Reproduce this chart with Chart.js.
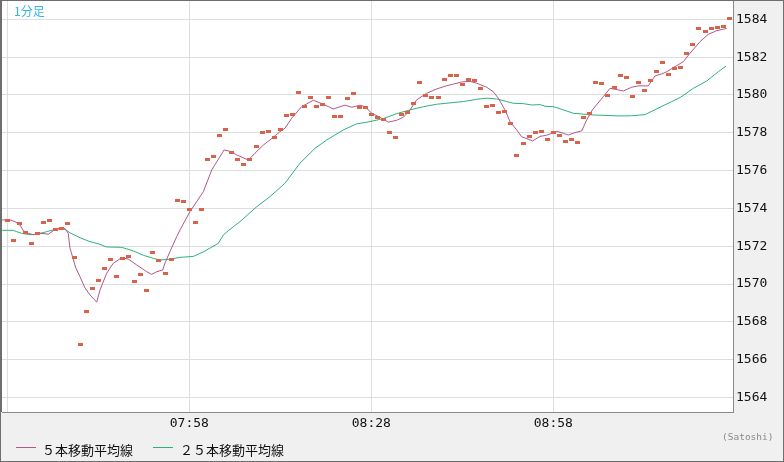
<!DOCTYPE html>
<html lang="ja">
<head>
<meta charset="UTF-8">
<title>1分足</title>
<script src="https://cdn.jsdelivr.net/npm/chart.js"></script>
<style>
  body { margin: 0; background: #fff; }
  #wrap { position: relative; width: 784px; height: 462px; }
  #c { position: absolute; left: 0; top: 0; }
  .txt { position: absolute; white-space: nowrap; }
  #note { left: 14px; top: 2px; font: 12px "Noto Sans CJK JP", sans-serif; color: #35b5e5; }
  #credit { left: 722px; top: 431px; font: 9.5px "DejaVu Sans Mono", monospace; color: #8a8a8a; }
  .leg-line { position: absolute; height: 1px; width: 20px; top: 447px; }
  .leg-txt { top: 440px; font: 13px "Noto Sans CJK JP", sans-serif; color: #111; }
</style>
</head>
<body>
<div id="wrap">
  <canvas id="c" width="784" height="462"></canvas>
  <div id="note" class="txt">1分足</div>
  <div class="leg-line" style="left:16px;background:#b0588a"></div>
  <div class="txt leg-txt" style="left:42px">５本移動平均線</div>
  <div class="leg-line" style="left:153px;background:#2db37a"></div>
  <div class="txt leg-txt" style="left:180px">２５本移動平均線</div>
  <div id="credit" class="txt">(Satoshi)</div>
</div>
<script>
// one dash per minute, starting 07:28 (minute 0)
const closes = [
  1573.37, 1572.31, 1573.21, 1572.74, 1572.15, 1572.68, 1573.26, 1573.37, 1572.89, 1572.95,
  1573.21, 1571.41, 1566.81, 1568.56, 1569.77, 1570.20, 1570.83, 1571.31, 1570.41, 1571.36,
  1571.47, 1570.14, 1570.51, 1569.67, 1571.68, 1571.25, 1570.57, 1571.31, 1574.43, 1574.38,
  1573.95, 1573.26, 1573.95, 1576.60, 1576.76, 1577.87, 1578.19, 1576.97, 1576.60, 1576.33,
  1576.60, 1577.29, 1578.03, 1578.08, 1577.76, 1578.19, 1578.93, 1578.98, 1580.14, 1579.40,
  1579.88, 1579.40, 1579.51, 1579.88, 1578.87, 1578.87, 1579.83, 1580.09, 1579.35, 1579.35,
  1578.98, 1578.82, 1578.71, 1578.03, 1577.76, 1578.98, 1579.08, 1579.56, 1580.67, 1579.98,
  1579.88, 1579.88, 1580.83, 1581.04, 1581.04, 1580.57, 1580.83, 1580.78, 1580.35, 1579.40,
  1579.46, 1579.08, 1579.14, 1578.50, 1576.81, 1577.44, 1577.81, 1578.03, 1578.08, 1577.66,
  1578.03, 1577.87, 1577.55, 1577.66, 1577.50, 1578.82, 1579.03, 1580.67, 1580.62, 1579.98,
  1580.41, 1581.04, 1580.94, 1579.93, 1580.67, 1580.25, 1580.78, 1581.25, 1581.73, 1581.09,
  1581.41, 1581.46, 1582.20, 1582.68, 1583.53, 1583.37, 1583.53, 1583.59, 1583.64, 1584.07
];

// [minute, value]
const ma5 = [
  [-0.9, 1573.39], [0.45, 1573.39], [1.27, 1573.30], [2.09, 1573.12], [2.75, 1572.77],
  [3.46, 1572.68], [4.29, 1572.61], [5.39, 1572.68], [6.21, 1572.66], [6.76, 1572.63],
  [7.58, 1572.82], [8.69, 1572.98], [9.51, 1572.94], [10.05, 1572.68], [10.33, 1571.9],
  [11.3, 1570.85], [11.98, 1570.39], [12.81, 1569.79], [13.63, 1569.42], [14.74, 1569.04],
  [15.28, 1569.68], [16.38, 1570.57], [17.47, 1571.10], [18.86, 1571.39], [19.94, 1571.32],
  [21.33, 1571.01], [22.98, 1570.65], [23.80, 1570.51], [24.63, 1570.65], [25.61, 1570.74],
  [25.99, 1571.10], [26.82, 1571.72], [27.92, 1572.50], [28.47, 1572.86], [30.11, 1573.83],
  [32.31, 1574.88], [33.69, 1576.03], [35.72, 1577.09], [36.71, 1577.02], [37.81, 1576.83],
  [39.72, 1576.56], [40.83, 1576.92], [42.20, 1577.35], [43.30, 1577.62], [44.95, 1578.06],
  [45.77, 1578.24], [46.88, 1578.77], [48.52, 1579.38], [50.44, 1579.72], [52.09, 1579.51],
  [53.73, 1579.26], [55.66, 1579.46], [56.77, 1579.35], [58.14, 1579.46], [58.96, 1579.38],
  [60.07, 1579.03], [61.44, 1578.82], [62.80, 1578.56], [64.18, 1578.66], [65.27, 1578.82],
  [66.38, 1579.21], [67.48, 1579.74], [69.13, 1580.09], [70.78, 1580.32], [72.43, 1580.49],
  [73.51, 1580.57], [74.90, 1580.69], [76.27, 1580.72], [77.37, 1580.62], [79.02, 1580.41],
  [80.10, 1580.17], [80.93, 1579.83], [82.03, 1579.21], [82.86, 1578.59], [83.96, 1578.15],
  [84.79, 1577.79], [86.60, 1577.57], [87.80, 1577.81], [88.91, 1577.87], [89.73, 1577.97],
  [90.56, 1578.08], [91.65, 1577.97], [92.47, 1577.88], [93.58, 1578.01], [94.68, 1578.10],
  [95.50, 1578.68], [96.43, 1579.21], [98.24, 1579.91], [99.34, 1580.35], [100.17, 1580.30],
  [101.53, 1580.21], [102.92, 1580.41], [104.00, 1580.48], [105.65, 1580.48], [106.76, 1581.01],
  [107.86, 1581.11], [108.69, 1581.23], [110.06, 1581.50], [111.42, 1581.76], [112.53, 1582.21],
  [114.18, 1582.82], [115.54, 1583.21], [116.93, 1583.40], [118.58, 1583.52]
];

// [minute, value]
const ma25 = [
  [-0.9, 1572.84], [0.99, 1572.84], [1.55, 1572.77], [2.37, 1572.68], [3.74, 1572.61],
  [4.85, 1572.63], [6.49, 1572.77], [8.14, 1572.91], [9.51, 1572.89], [10.33, 1572.71],
  [11.98, 1572.45], [13.63, 1572.24], [15.28, 1572.10], [16.38, 1571.96], [18.86, 1571.94],
  [20.77, 1571.75], [22.42, 1571.52], [24.06, 1571.36], [25.17, 1571.27], [26.82, 1571.31],
  [28.47, 1571.41], [30.66, 1571.46], [32.31, 1571.70], [34.78, 1572.15], [35.60, 1572.59],
  [36.43, 1572.82], [38.36, 1573.30], [41.11, 1574.09], [43.30, 1574.62], [45.77, 1575.33],
  [48.24, 1576.39], [50.72, 1577.18], [52.65, 1577.62], [55.38, 1578.15], [57.59, 1578.47],
  [59.78, 1578.59], [61.98, 1578.75], [64.18, 1579.01], [66.38, 1579.21], [68.57, 1579.38],
  [70.78, 1579.51], [72.97, 1579.58], [75.16, 1579.65], [77.37, 1579.77], [79.02, 1579.83],
  [80.67, 1579.79], [82.32, 1579.65], [83.41, 1579.56], [85.06, 1579.54], [86.45, 1579.47],
  [87.80, 1579.49], [88.63, 1579.40], [90.00, 1579.38], [91.39, 1579.24], [93.30, 1579.03],
  [96.59, 1578.94], [100.99, 1578.89], [102.92, 1578.90], [105.11, 1578.96], [107.58, 1579.35],
  [110.88, 1579.86], [113.07, 1580.35], [115.28, 1580.74], [117.19, 1581.23], [118.46, 1581.53]
];

const xTickMinutes = [0, 30, 60, 90];
const xTickLabels = ['', '07:58', '08:28', '08:58'];
const yTickValues = [1564, 1566, 1568, 1570, 1572, 1574, 1576, 1578, 1580, 1582, 1584];

// little flat dash used for each minute mark
const dash = document.createElement('canvas');
dash.width = 5; dash.height = 3;
const dctx = dash.getContext('2d');
dctx.fillStyle = '#d9624a';
dctx.fillRect(0, 0, 5, 3);

const frame = {
  id: 'frame',
  beforeDraw(chart) {
    const { ctx, chartArea: a } = chart;
    ctx.save();
    ctx.fillStyle = '#f0f0f0';
    ctx.fillRect(0, 0, chart.width, chart.height);
    ctx.fillStyle = '#ffffff';
    ctx.fillRect(a.left, a.top, a.right - a.left, a.bottom - a.top);
    ctx.restore();
  },
  // keep the dashes crisp instead of smeared over half pixels
  beforeDatasetsDraw(chart) {
    chart.ctx.save();
    chart.ctx.imageSmoothingEnabled = false;
  },
  afterDatasetsDraw(chart) {
    chart.ctx.restore();
  },
  afterDraw(chart) {
    const ctx = chart.ctx;
    ctx.save();
    ctx.strokeStyle = '#6e6e6e';
    ctx.lineWidth = 1;
    ctx.strokeRect(0.5, 0.5, chart.width - 1, chart.height - 1);
    ctx.beginPath();
    ctx.moveTo(1.5, 0); ctx.lineTo(1.5, chart.chartArea.bottom);
    ctx.stroke();
    ctx.restore();
  }
};

// keep the plot box fixed: no extra room for overhanging tick labels
const noOverhang = s => {
  s.paddingTop = 0; s.paddingBottom = 0; s.paddingLeft = 0; s.paddingRight = 0;
};

new Chart(document.getElementById('c'), {
  type: 'line',
  data: {
    datasets: [
      {
        label: '1分足',
        data: closes.map((v, i) => ({ x: i, y: v })),
        showLine: false,
        pointStyle: dash,
        pointRadius: 3
      },
      {
        label: '５本移動平均線',
        data: ma5.map(p => ({ x: p[0], y: p[1] })),
        borderColor: '#b0588a',
        borderWidth: 1,
        pointRadius: 0,
        tension: 0
      },
      {
        label: '２５本移動平均線',
        data: ma25.map(p => ({ x: p[0], y: p[1] })),
        borderColor: '#2db37a',
        borderWidth: 1,
        pointRadius: 0,
        tension: 0
      }
    ]
  },
  options: {
    responsive: false,
    animation: false,
    events: [],
    layout: { autoPadding: false, padding: { left: 2, top: 1, right: 0, bottom: 0 } },
    plugins: { legend: { display: false }, tooltip: { enabled: false } },
    scales: {
      x: {
        type: 'linear',
        min: -0.87,
        max: 119.61,
        afterFit: s => { s.height = 50; noOverhang(s); },
        afterBuildTicks: s => { s.ticks = xTickMinutes.map(v => ({ value: v })); },
        ticks: {
          autoSkip: false,
          maxRotation: 0,
          padding: 4,
          color: '#111',
          font: { family: '"DejaVu Sans Mono", monospace', size: 13 },
          callback: (v) => xTickLabels[xTickMinutes.indexOf(v)]
        },
        grid: { color: '#dedede', drawTicks: false },
        border: { color: '#8a8a8a' }
      },
      y: {
        position: 'right',
        min: 1563.23,
        max: 1584.97,
        afterFit: s => { s.width = 51; noOverhang(s); },
        afterBuildTicks: s => { s.ticks = yTickValues.map(v => ({ value: v })); },
        ticks: {
          padding: 3,
          color: '#111',
          font: { family: '"DejaVu Sans Mono", monospace', size: 13 },
          callback: v => String(v)
        },
        grid: { color: '#dedede', drawTicks: false },
        border: { color: '#8a8a8a' }
      }
    }
  },
  plugins: [frame]
});
</script>
</body>
</html>
